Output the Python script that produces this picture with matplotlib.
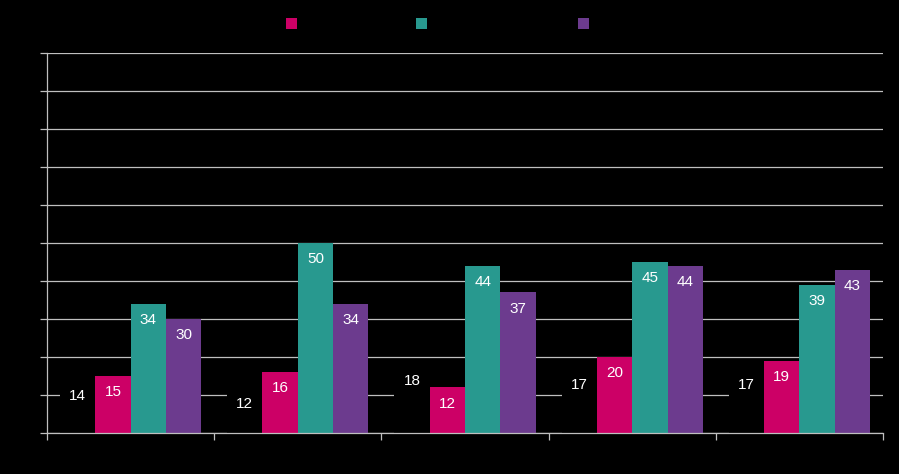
import matplotlib as mpl
import matplotlib.pyplot as plt
import numpy as np

# chart data
categories = ["A", "B", "C", "D", "E"]
series_names = ["Series 0", "Series one label", "Series two label text l", "Series three"]
values_0 = [14, 12, 18, 17, 17]
values_1 = [15, 16, 12, 20, 19]
values_2 = [34, 50, 44, 45, 39]
values_3 = [30, 34, 37, 44, 43]
colors = ["#000000", "#CC0066", "#28998F", "#6C3B8E"]

mpl.rcParams["font.family"] = "Liberation Sans"

fig = plt.figure(figsize=(8.99, 4.74), dpi=100, facecolor="black")
ax = fig.add_axes([47 / 899, 41 / 474, 836 / 899, 380 / 474], facecolor="black")

x = np.arange(len(categories))
width = 0.845 / 4
all_vals = [values_0, values_1, values_2, values_3]
handles = []
for i, vals in enumerate(all_vals):
	pos = x + (i - 1.5) * width
	bars = ax.bar(pos, vals, width=width, color=colors[i], zorder=3,
	              label=series_names[i])
	handles.append(bars)
	for b, v in zip(bars, vals):
		ax.text(b.get_x() + b.get_width() / 2, v - 2.4, f"{v}",
		        ha="center", va="top", color="white", fontsize=11, zorder=4)

ax.set_xlim(-0.5, len(categories) - 0.5)
ax.set_ylim(0, 100)
ax.set_yticks(np.arange(0, 101, 10))
ax.set_yticklabels([])
ax.set_xticks(np.arange(len(categories) + 1) - 0.5)
ax.set_xticklabels([])
ax.grid(axis="y", color="#bfbfbf", lw=0.9, zorder=0)
ax.tick_params(axis="both", colors="#bfbfbf", length=5, width=0.9)
for side in ["top", "right"]:
	ax.spines[side].set_visible(False)
for side in ["left", "bottom"]:
	ax.spines[side].set_color("#bfbfbf")
	ax.spines[side].set_linewidth(0.9)
	ax.spines[side].set_zorder(5)

leg = fig.legend(handles[1:], series_names[1:], loc="upper left",
                 bbox_to_anchor=(273 / 899, 1.0 - 5 / 474), ncol=3, frameon=False,
                 handlelength=0.8, handleheight=0.8, handletextpad=0.4,
                 columnspacing=1.0, fontsize=10)
for t in leg.get_texts():
	t.set_color("black")

fig.savefig("out.png", facecolor="black")
